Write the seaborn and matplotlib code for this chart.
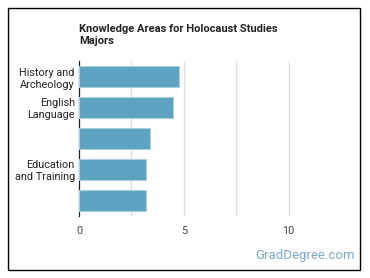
import matplotlib
matplotlib.use("Agg")
import matplotlib.pyplot as plt
import seaborn as sns
import pandas as pd
from matplotlib.patches import Rectangle

# chart data
areas = ["History and Archeology", "English Language", "Area 3", "Education and Training", "Area 5"]
tick_labels = ["History and\nArcheology", "English\nLanguage", "", "Education\nand Training", ""]
scores = [4.75, 4.5, 3.4, 3.2, 3.2]
x_ticks = [0, 5, 10]

df = pd.DataFrame({"area": areas, "score": scores})

sns.set_style("white")
plt.rcParams["font.family"] = ["Roboto", "DejaVu Sans"]

fig = plt.figure(figsize=(3.7, 2.78), dpi=100)
ax = fig.add_axes([79 / 370, 1 - 216 / 278, (341 - 79) / 370, (216 - 61) / 278])

sns.barplot(data=df, x="score", y="area", color="#5ba3c0", width=0.65,
            edgecolor="#a9cfe0", linewidth=0.8, saturation=1, ax=ax, zorder=3)

ax.set_xlim(0, 12.5)
ax.set_ylim(4.5, -0.5)
for v in [2.5, 5, 7.5, 10]:
    ax.axvline(v, color="#dddddd", lw=0.9, zorder=0)
ax.set_xticks(x_ticks)
ax.set_xticklabels([str(t) for t in x_ticks], fontsize=7.8, color="#444444")
ax.set_yticks(range(len(areas)))
ax.set_yticklabels(tick_labels, fontsize=7.8, color="#222222", linespacing=1.25)
ax.tick_params(axis="both", length=0, pad=3)
ax.tick_params(axis="x", pad=7)
ax.set_xlabel("")
ax.set_ylabel("")
for s in ["top", "right", "bottom"]:
    ax.spines[s].set_visible(False)
ax.spines["left"].set_color("#222222")
ax.spines["left"].set_linewidth(0.9)

fig.text(79 / 370, 1 - 35 / 278, "Knowledge Areas for Holocaust Studies\nMajors",
         fontsize=8, fontweight="bold", color="#222222", va="center", ha="left", linespacing=1.35)
fig.text(355 / 370, 1 - 256 / 278, "GradDegree.com", fontsize=9.5, color="#7aaac8",
         ha="right", va="center")

fig.patches.append(Rectangle((8 / 370, 1 - 270 / 278), 352 / 370, 262 / 278,
                             transform=fig.transFigure, fill=False, edgecolor="black", lw=1))

fig.savefig("out.png", dpi=100)
